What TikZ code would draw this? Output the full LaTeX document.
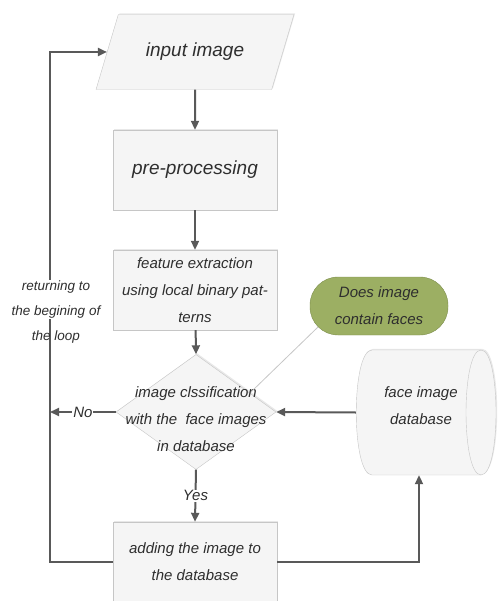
\documentclass[tikz,border=0pt]{standalone}
\usepackage{fontspec}
\setmainfont{Liberation Sans}
\usetikzlibrary{arrows.meta,shapes.geometric,shadows,positioning}
\definecolor{boxfill}{HTML}{F5F5F5}
\definecolor{boxline}{HTML}{C6C6C6}
\definecolor{arrowgray}{HTML}{595959}
\definecolor{txtgray}{HTML}{2E2E2E}
\definecolor{notegreen}{HTML}{9CAF63}
\definecolor{noteline}{HTML}{7E8F4E}

\begin{document}
\begin{tikzpicture}[
    % GLOBAL CFG
    x=1pt, y=-1pt,
    font=\itshape\fontsize{15}{27}\selectfont,
    text=txtgray,
    >={Triangle[length=9pt,width=8pt]},
    % Styles
    soft/.style={% light shadow of the boxes
        drop shadow={shadow xshift=1.2pt, shadow yshift=1.2pt, opacity=0.18},
        },
    process/.style={% plain steps
        rectangle,
        draw=boxline,
        fill=boxfill,
        soft,
        minimum width=164pt,
        minimum height=80pt,
        align=center,
        },
    io/.style={% the input
        trapezium,
        trapezium left angle=58,
        trapezium right angle=122,
        trapezium stretches=true,
        draw=boxline,
        fill=boxfill,
        soft,
        minimum width=198pt,
        minimum height=75pt,
        },
    decision/.style={% the test
        diamond,
        draw=boxline,
        fill=boxfill,
        soft,
        minimum width=160pt,
        minimum height=115pt,
        inner sep=0pt,
        },
    note/.style={% the comment bubble
        rectangle,
        rounded corners=28pt,
        draw=noteline,
        fill=notegreen,
        minimum width=138pt,
        minimum height=58pt,
        inner sep=0pt,
        align=center,
        },
    big/.style={font=\itshape\fontsize{19}{22}\selectfont},
    side/.style={font=\itshape\fontsize{13.5}{25}\selectfont, align=center, inner sep=1pt},
    ArrowC1/.style={% connectors
        draw=arrowgray,
        line width=2pt,
        },
    ]

\useasboundingbox (0,0) rectangle (499,601);

    % Steps
    \node [io, big] (input) at (195,52) {input image};
    \node [process, big] (prep) at (195,170) {pre-processing};
    \node [process] (feat) at (195,290) {feature extraction\\using local binary pat-\\terns};
    \node [decision] (cls) at (196,412) {};
    \node [align=center] (clstext) at (196,419) {image clssification\\with the\ \ face images\\in database};
    \node [process] (add) at (195,562) {adding the image to\\the database};

    % Database drawn as a drum, node (db) only holds its place
    \node [minimum width=140pt, minimum height=125pt] (db) at (426,412.5) {};
    \filldraw [draw=boxline, fill=boxfill, soft] (372,350) -- (481,350)
        .. controls (501,350) and (501,475) .. (481,475) -- (372,475)
        .. controls (351,475) and (351,350) .. (372,350) -- cycle;
    \draw [boxline] (481,350) .. controls (461,350) and (461,475) .. (481,475);
    \node [align=center] (dbtext) at (421,406) {face image\\database};

    % Comment
    \node [note] (ask) at (379,306) {Does image\\contain faces};
    \coordinate (pin) at (251,392);
    \draw [boxline, line width=0.8pt] ([shift={(8,-8)}]ask.south west) -- (pin);

    \coordinate (turn) at (50,562);

    % Arrows
    \draw [->, ArrowC1] (input) -- (prep);
    \draw [->, ArrowC1] (prep) -- (feat);
    \draw [->, ArrowC1] (feat) -- (cls.north);
    \draw [->, ArrowC1] (db.west) -- (cls.east);
    \draw [->, ArrowC1] (cls.south) -- (add.north) node[midway, fill=white, inner sep=1pt] {Yes};
    \draw [->, ArrowC1] (cls.west) -- (cls.west -| turn) node[midway, fill=white, inner sep=1pt] {No};
    \draw [->, ArrowC1] (add.east) -| ([xshift=-7pt]db.south);
    \draw [->, ArrowC1] (add.west) -- (turn) |- (input.west);

    % Side label
    \node [side, fill=white] (ret) at (56,299.5) {returning to\\the begining of};
    \node [side] (ret2) at (56,337) {the loop};

\end{tikzpicture}
\end{document}
